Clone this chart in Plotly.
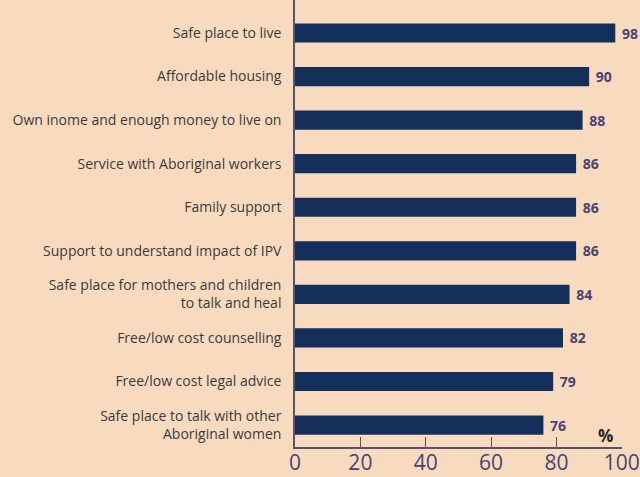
import plotly.graph_objects as go

categories = [
    'Safe place to live',
    'Affordable housing',
    'Own inome and enough money to live on',
    'Service with Aboriginal workers',
    'Family support',
    'Support to understand impact of IPV',
    'Safe place for mothers and children<br>to talk and heal',
    'Free/low cost counselling',
    'Free/low cost legal advice',
    'Safe place to talk with other<br>Aboriginal women',
]
values = [98, 90, 88, 86, 86, 86, 84, 82, 79, 76]
x_ticks = [0, 20, 40, 60, 80, 100]

bg = '#F8DBBF'
bar_col = '#14305A'
axis_col = '#5A5070'
label_col = '#4A4272'

fig = go.Figure()

fig.add_trace(go.Bar(
    x = values,
    y = categories,
    orientation = 'h',
    marker = dict(color = bar_col, line = dict(width = 0)),
    width = 0.44,
    text = ['\u00a0' + str(v) for v in values],
    textposition = 'outside',
    textfont = dict(family = 'Open Sans', size = 14, color = label_col, weight = 'bold'),
    cliponaxis = False,
    showlegend = False
))

fig.add_annotation(
    x = 95, y = 9.25, xref = 'x', yref = 'y',
    text = '<b>%</b>', showarrow = False,
    font = dict(family = 'Open Sans', size = 17, color = '#222222')
)

fig.update_layout(
    width = 640,
    height = 477,
    paper_bgcolor = bg,
    plot_bgcolor = bg,
    margin = dict(l = 295, r = 18, t = 0, b = 30),
    bargap = 0.5,
    xaxis = dict(
        range = [0, 100.05],
        tickvals = x_ticks,
        ticks = 'inside',
        ticklen = 10,
        tickwidth = 1.3,
        tickcolor = axis_col,
        showline = True,
        linecolor = axis_col,
        linewidth = 1.5,
        showgrid = False,
        zeroline = False,
        automargin = False,
        ticklabeloverflow = 'allow',
        ticklabelstandoff = -4,
        tickfont = dict(family = 'Open Sans', size = 21, color = label_col),
    ),
    yaxis = dict(
        categoryorder = 'array',
        categoryarray = categories,
        range = [9.504, -0.758],
        showline = True,
        linecolor = axis_col,
        linewidth = 1.5,
        showgrid = False,
        automargin = False,
        ticks = '',
        ticklabelstandoff = 9,
        tickfont = dict(family = 'Open Sans', size = 14, color = '#3A3A3A'),
    ),
)

fig.write_html(
    'out.html',
    config = {'displayModeBar': False},
    post_script = "document.body.style.margin='0';document.body.style.overflow='hidden';"
)
